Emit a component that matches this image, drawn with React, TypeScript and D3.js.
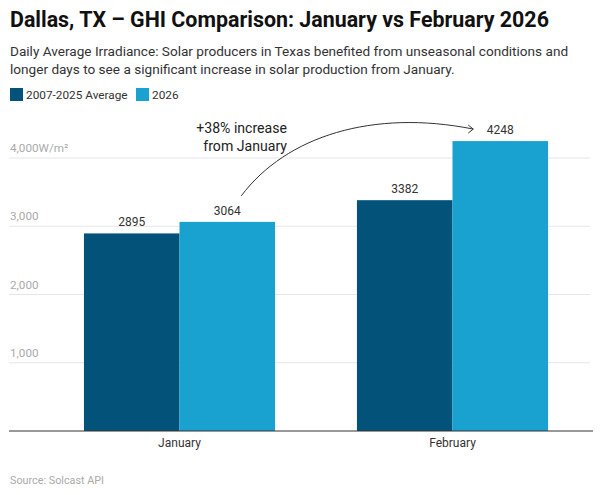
import React from "react";
import * as d3 from "d3";

const categories = ["January", "February"];
const seriesNames = ["2007-2025 Average", "2026"];
const seriesColors = ["#02527a", "#19a2cf"];
const avgValues = [2895, 3382];
const values2026 = [3064, 4248];
const yTicks = [1000, 2000, 3000, 4000];

const W = 600;
const H = 495;
const FONT = "Roboto, 'Noto Sans', sans-serif";

export default function App() {
  const y = d3.scaleLinear().domain([0, 4000]).range([431, 158]);
  const x0 = d3
    .scaleBand<string>()
    .domain(categories)
    .range([43, 589])
    .paddingInner(0.3)
    .paddingOuter(0.15);
  const x1 = d3
    .scaleBand<string>()
    .domain(seriesNames)
    .range([0, x0.bandwidth()]);
  const series = [avgValues, values2026];

  const janX = (x0("January") as number) + (x1("2026") as number) + x1.bandwidth() / 2;
  const febX = (x0("February") as number) + (x1("2026") as number) + x1.bandwidth() / 2;
  const start: [number, number] = [janX + 14, y(values2026[0]) - 26];
  const end: [number, number] = [febX - 27, y(values2026[1]) - 12];
  const path = d3.path();
  path.moveTo(start[0], start[1]);
  path.bezierCurveTo(start[0] + 45, start[1] - 60, end[0] - 100, end[1] - 20, end[0], end[1]);

  return (
    <svg width={W} height={H} style={{ display: "block", position: "absolute", left: 0, top: 0 }} fontFamily={FONT}>
      <rect width={W} height={H} fill="#fff" />
      <text x={10} y={27} fontSize={21.4} fontWeight={700} fill="#111">
        Dallas, TX – GHI Comparison: January vs February 2026
      </text>
      <text x={10} y={56} fontSize={13.6} fill="#333">
        Daily Average Irradiance: Solar producers in Texas benefited from unseasonal conditions and
      </text>
      <text x={10} y={74} fontSize={13.6} fill="#333">
        longer days to see a significant increase in solar production from January.
      </text>
      {seriesNames.map((s, i) => {
        const lx = i === 0 ? 10 : 136;
        return (
          <g key={s}>
            <rect x={lx} y={88} width={13} height={13} fill={seriesColors[i]} />
            <text x={lx + 16} y={99} fontSize={11.8} fill="#333">
              {s}
            </text>
          </g>
        );
      })}
      {yTicks.map((t) => (
        <g key={t}>
          <line x1={9} x2={590} y1={y(t)} y2={y(t)} stroke="#e6e6e6" strokeWidth={1} />
          <text x={10} y={y(t) - 6} fontSize={11.7} fill="#aaaaaa">
            {d3.format(",")(t) + (t === 4000 ? "W/m²" : "")}
          </text>
        </g>
      ))}
      {categories.map((c, ci) => (
        <g key={c} transform={`translate(${x0(c)},0)`}>
          {seriesNames.map((s, si) => {
            const v = series[si][ci];
            const bx = x1(s) as number;
            return (
              <g key={s}>
                <rect x={bx} y={y(v)} width={x1.bandwidth()} height={y(0) - y(v)} fill={seriesColors[si]} />
                <text x={bx + x1.bandwidth() / 2} y={y(v) - 7} fontSize={12} textAnchor="middle" fill="#333">
                  {v}
                </text>
              </g>
            );
          })}
          <text x={x0.bandwidth() / 2} y={447} fontSize={12} textAnchor="middle" fill="#333">
            {c}
          </text>
        </g>
      ))}
      <line x1={9} x2={593} y1={y(0)} y2={y(0)} stroke="#333" strokeWidth={1} />
      <path d={path.toString()} fill="none" stroke="#333" strokeWidth={1} />
      <path
        d={`M${end[0] - 5},${end[1] - 4} L${end[0]},${end[1]} L${end[0] - 5},${end[1] + 4}`}
        fill="none"
        stroke="#333"
        strokeWidth={1}
      />
      <text x={287} y={133} fontSize={14.1} textAnchor="end" fill="#222">
        +38% increase
      </text>
      <text x={287} y={151} fontSize={14.1} textAnchor="end" fill="#222">
        from January
      </text>
      <text x={10} y={484} fontSize={10.8} fill="#aaaaaa">
        Source: Solcast API
      </text>
    </svg>
  );
}
